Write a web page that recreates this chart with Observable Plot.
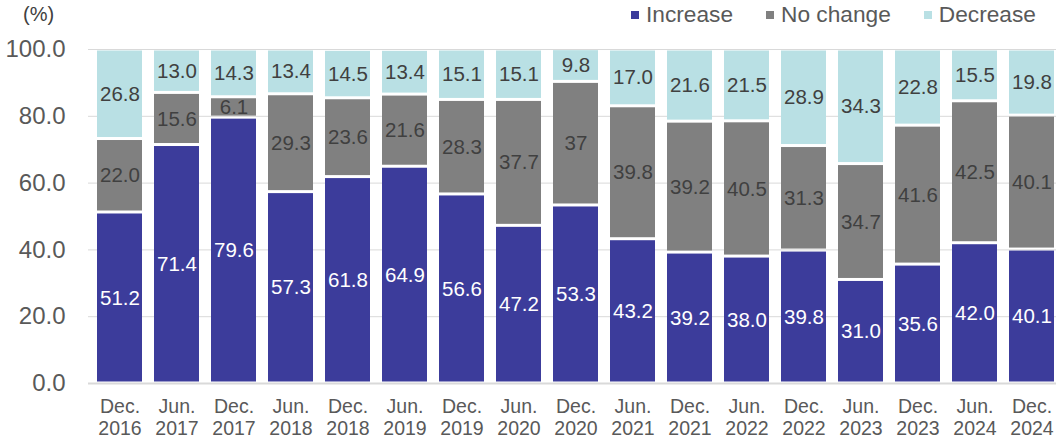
<!DOCTYPE html>
<html>
<head>
<meta charset="utf-8">
<script src="https://cdn.jsdelivr.net/npm/d3@7"></script>
<script src="https://cdn.jsdelivr.net/npm/@observablehq/plot@0.6"></script>
<style>
  body { margin: 0; background: #fff; font-family: "Liberation Sans", Arial, sans-serif; }
  #wrap { position: relative; width: 1056px; height: 440px; overflow: hidden; }
  #unit { position: absolute; left: 23px; top: 3px; font-size: 20px; color: #404040; }
  #legend { position: absolute; left: 631px; top: 1px; display: flex; align-items: center; font-size: 22.7px; color: #595959; white-space: nowrap; }
  #legend .item { display: flex; align-items: center; }
  #legend .sw { width: 8px; height: 8px; margin-right: 7px; }
</style>
</head>
<body>
<div id="wrap">
  <div id="chart"></div>
  <div id="unit">(%)</div>
  <div id="legend"></div>
</div>
<script>
const categories = ["Dec.\n2016","Jun.\n2017","Dec.\n2017","Jun.\n2018","Dec.\n2018","Jun.\n2019","Dec.\n2019","Jun.\n2020","Dec.\n2020","Jun.\n2021","Dec.\n2021","Jun.\n2022","Dec.\n2022","Jun.\n2023","Dec.\n2023","Jun.\n2024","Dec.\n2024"];
const seriesNames = ["Increase", "No change", "Decrease"];
const increase = ["51.2","71.4","79.6","57.3","61.8","64.9","56.6","47.2","53.3","43.2","39.2","38.0","39.8","31.0","35.6","42.0","40.1"];
const noChange = ["22.0","15.6","6.1","29.3","23.6","21.6","28.3","37.7","37","39.8","39.2","40.5","31.3","34.7","41.6","42.5","40.1"];
const decrease = ["26.8","13.0","14.3","13.4","14.5","13.4","15.1","15.1","9.8","17.0","21.6","21.5","28.9","34.3","22.8","15.5","19.8"];
const yTicks = [0, 20, 40, 60, 80, 100];
const colors = ["#3c3c9b", "#808080", "#b9e0e4"];

const seriesValues = [increase, noChange, decrease];
const data = [];
seriesNames.forEach((s, si) => {
  categories.forEach((c, ci) => {
    data.push({cat: c, series: s, label: seriesValues[si][ci], value: +seriesValues[si][ci]});
  });
});

const font = '"Liberation Sans", Arial, sans-serif';

const chart = Plot.plot({
  width: 1056,
  height: 440,
  marginTop: 49,
  marginBottom: 57,
  marginLeft: 88,
  marginRight: 0,
  style: {fontFamily: font, background: "#fff", overflow: "visible"},
  x: {domain: categories, range: [88, 1064], paddingInner: 0.21, paddingOuter: 0.105, align: 0.5, label: null},
  y: {domain: [0, 100], label: null},
  color: {domain: seriesNames, range: colors},
  marks: [
    Plot.ruleY(yTicks.filter(d => d > 0), {stroke: "#d9d9d9", strokeWidth: 1}),
    Plot.barY(data, Plot.stackY({x: "cat", y: "value", z: "series", fill: "series", insetTop: 1.5, insetBottom: 1.5})),
    Plot.ruleY([0], {stroke: "#d9d9d9", strokeWidth: 2}),
    Plot.text(data, Plot.stackY({x: "cat", y: "value", z: "series", text: d => d.series === "Increase" ? d.label : "", fill: "white", fontSize: 20.5, fontFamily: font})),
    Plot.text(data, Plot.stackY({x: "cat", y: "value", z: "series", text: d => d.series !== "Increase" ? d.label : "", fill: "#404040", fontSize: 20.5, fontFamily: font})),
    Plot.axisY({ticks: yTicks, tickFormat: d => d.toFixed(1), tickSize: 0, tickPadding: 23, fontSize: 24, fill: "#595959", label: null}),
    Plot.axisX({tickSize: 0, tickPadding: 15, fontSize: 19.5, lineHeight: 1.08, fill: "#595959", label: null})
  ]
});
document.getElementById("chart").appendChild(chart);

const legend = document.getElementById("legend");
const gaps = [33, 33, 0];
seriesNames.forEach((s, i) => {
  const item = document.createElement("div");
  item.className = "item";
  item.style.marginRight = gaps[i] + "px";
  const sw = document.createElement("span");
  sw.className = "sw";
  sw.style.background = colors[i];
  const t = document.createElement("span");
  t.textContent = s;
  item.appendChild(sw);
  item.appendChild(t);
  legend.appendChild(item);
});
</script>
</body>
</html>
